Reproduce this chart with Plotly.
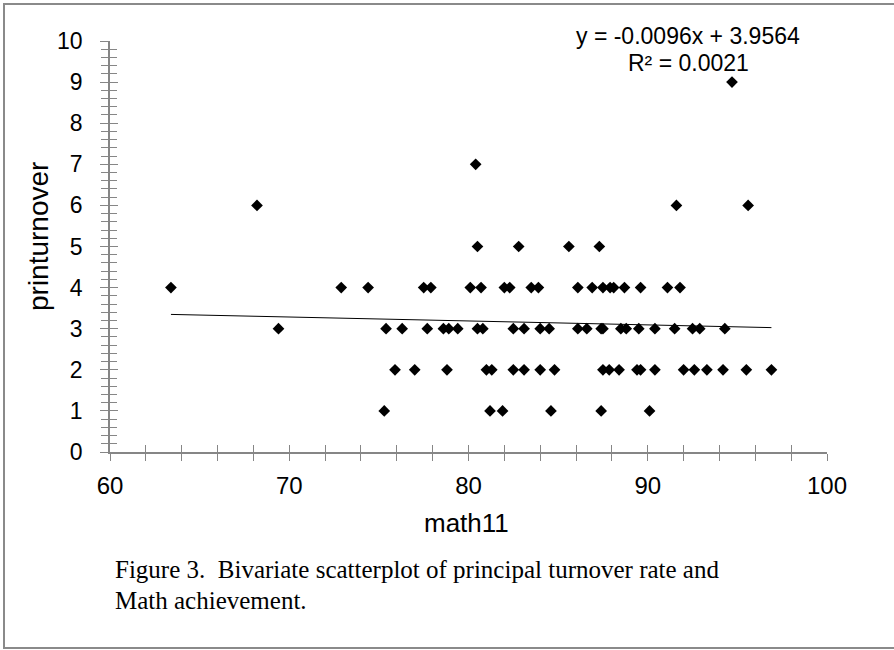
import plotly.graph_objects as go

# ---- data ----
x_at_9 = [94.7]
x_at_7 = [80.4]
x_at_6 = [68.2, 91.6, 95.6]
x_at_5 = [80.5, 82.8, 85.6, 87.3]
x_at_4 = [63.4, 72.9, 74.4, 77.5, 77.9, 80.1, 80.7, 82.0, 82.3, 83.5, 83.9,
          86.1, 86.9, 87.5, 87.9, 88.1, 88.7, 89.6, 91.1, 91.8]
x_at_3 = [69.4, 75.4, 76.3, 77.7, 78.6, 78.9, 79.4, 80.5, 80.8, 82.5, 83.1,
          84.0, 84.5, 86.1, 86.6, 87.4, 87.5, 88.5, 88.8, 89.5, 90.4, 91.5,
          92.5, 92.9, 94.3]
x_at_2 = [75.9, 77.0, 78.8, 81.0, 81.3, 82.5, 83.1, 84.0, 84.8, 87.5, 87.85,
          88.4, 89.4, 89.6, 90.4, 92.0, 92.6, 93.3, 94.2, 95.5, 96.9]
x_at_1 = [75.3, 81.2, 81.9, 84.6, 87.4, 90.1]

levels = {9: x_at_9, 7: x_at_7, 6: x_at_6, 5: x_at_5, 4: x_at_4,
          3: x_at_3, 2: x_at_2, 1: x_at_1}

slope = -0.0096
intercept = 3.9564
r_squared = 0.0021

x_label = "math11"
y_label = "printurnover"
caption_line1 = "Figure 3.  Bivariate scatterplot of principal turnover rate and"
caption_line2 = "Math achievement."

math11 = []
printurnover = []
for yv, xs in levels.items():
    math11 += xs
    printurnover += [yv] * len(xs)

x_min, x_max = min(math11), max(math11)
trend_x = [x_min, x_max]
trend_y = [slope * v + intercept for v in trend_x]

# ---- figure ----
W, H = 894, 650
L, R, T, B = 110, 67, 41, 198
pw, ph = W - L - R, H - T - B


def px_x(p):
    return (p - L) / pw


def px_y(p):
    return (H - B - p) / ph


AX = "#868686"
SANS = "Liberation Sans, Arial, sans-serif"
SERIF = "Liberation Serif, Times New Roman, serif"

fig = go.Figure()
fig.add_trace(go.Scatter(
    x=math11, y=printurnover, mode="markers",
    marker=dict(symbol="diamond", size=9, color="black"),
    showlegend=False, hoverinfo="x+y"))
fig.add_trace(go.Scatter(
    x=trend_x, y=trend_y, mode="lines",
    line=dict(color="black", width=1), showlegend=False, hoverinfo="skip"))

common_x = dict(range=[60, 100], showgrid=False, zeroline=False)
common_y = dict(range=[0, 10], showgrid=False, zeroline=False)

fig.update_layout(
    width=W, height=H,
    margin=dict(l=L, r=R, t=T, b=B, pad=0),
    paper_bgcolor="white", plot_bgcolor="white",
    font=dict(family=SANS, color="black"),
    xaxis=dict(**common_x, showline=True, linecolor=AX, linewidth=1.5,
               tickmode="linear", tick0=60, dtick=10,
               ticks="outside", ticklen=7, tickcolor=AX, tickwidth=1.2,
               minor=dict(dtick=2, ticks="outside", ticklen=7, tickcolor=AX, tickwidth=1.2),
               tickfont=dict(size=24, family=SANS, color="black"),
               ticklabelstandoff=4),
    xaxis2=dict(**common_x, overlaying="x", showline=False, showticklabels=False,
                tickmode="linear", tick0=60, dtick=10,
                ticks="inside", ticklen=7, tickcolor=AX, tickwidth=1.2,
                minor=dict(dtick=2, ticks="inside", ticklen=7, tickcolor=AX, tickwidth=1.2)),
    yaxis=dict(**common_y, showline=True, linecolor=AX, linewidth=1.5,
               tickmode="linear", tick0=0, dtick=1,
               ticks="outside", ticklen=8, tickcolor=AX, tickwidth=1.2,
               minor=dict(dtick=0.2, ticks="outside", ticklen=7, tickcolor=AX, tickwidth=1.2),
               tickfont=dict(size=23, family=SANS, color="black"),
               ticklabelstandoff=13),
    yaxis2=dict(**common_y, overlaying="y", showline=False, showticklabels=False,
                tickmode="linear", tick0=0, dtick=1,
                ticks="inside", ticklen=8, tickcolor=AX, tickwidth=1.2,
                minor=dict(dtick=0.2, ticks="inside", ticklen=7, tickcolor=AX, tickwidth=1.2)),
)

# invisible trace to activate overlay axes
fig.add_trace(go.Scatter(x=[None], y=[None], xaxis="x2", yaxis="y2",
                         showlegend=False, hoverinfo="skip"))


def note(text, cx, cy, size, family=SANS, xanchor="center", angle=0):
    return dict(text=text, x=px_x(cx), y=px_y(cy), xref="paper", yref="paper",
                xanchor=xanchor, yanchor="middle", showarrow=False, textangle=angle,
                font=dict(size=size, family=family, color="black"))


ann = [
    note(f"y = {slope:.4f}x + {intercept:.4f}", 688, 36, 23),
    note(f"R² = {r_squared:.4f}", 688, 63, 23),
    note(x_label, 466, 523, 26),
    note(y_label, 38, 237, 28, angle=-90),
    note(caption_line1, 113, 569, 25, family=SERIF, xanchor="left"),
    note(caption_line2, 113, 600, 25, family=SERIF, xanchor="left"),
]
fig.update_layout(annotations=ann)

# outer frame
fig.add_shape(type="rect", xref="paper", yref="paper",
              x0=px_x(4), x1=px_x(898), y0=px_y(648), y1=px_y(4),
              line=dict(color="#8a8a8a", width=2), fillcolor="rgba(0,0,0,0)", layer="below")

fig.write_html("out.html")
